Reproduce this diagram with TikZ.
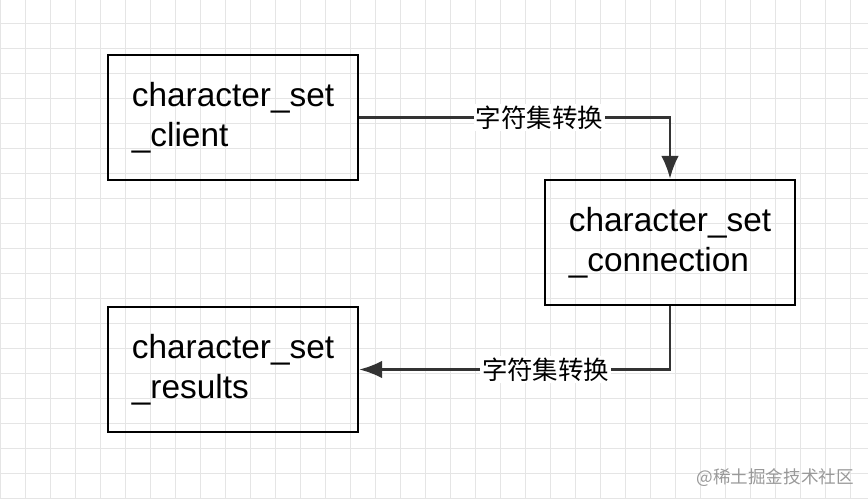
\documentclass[tikz,border=0pt]{standalone}
\usepackage{fontspec}
\setmainfont{Liberation Sans}
\newfontfamily\cjk{Noto Sans CJK SC}
\usetikzlibrary{positioning}
\usetikzlibrary{arrows.meta}
\tikzset{
  set box/.style = {draw, line width=1.4pt, minimum width=5cm, minimum height=2.5cm,
                    align=left, font=\fontsize{19}{23}\selectfont},
  conv/.style = {line width=1.4pt, draw=black!80, -{Latex[length=13pt,width=10pt]}},
  conv label/.style = {fill=white, inner sep=1pt, font=\cjk\fontsize{14.5}{17}\selectfont}
}
\begin{document}
\begin{tikzpicture}
  \useasboundingbox (0,0) rectangle (17.36,9.96);
  \draw[black!10, line width=0.5pt] (0,0) grid[step=0.5] (17.36,9.96);

  \node[set box] (client) at (4.66,7.61) {character\_set\\\_client};
  \node[set box] (conn) at (13.4,5.11) {character\_set\\\_connection};
  \node[set box] (results) at (4.66,2.57) {character\_set\\\_results};

  \draw[conv] (client.east) -| (conn.north) node[conv label, pos=0.29] {字符集转换};
  \draw[conv] (conn.south) |- (results.east) node[conv label, pos=0.7] {字符集转换};

  \node[anchor=south east, text=black!40, font=\cjk\fontsize{10}{12}\selectfont] (mark) at (17.2,0.1) {@稀土掘金技术社区};
\end{tikzpicture}
\end{document}
